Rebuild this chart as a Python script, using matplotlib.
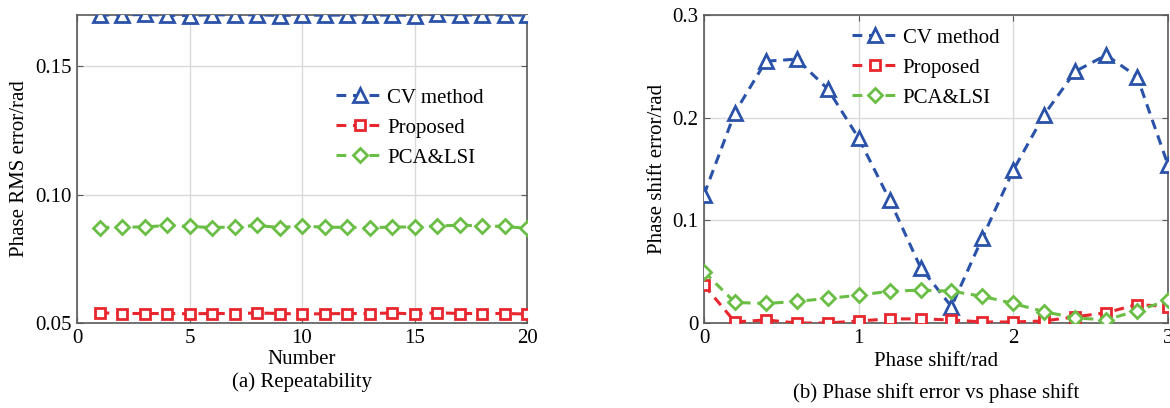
"""Two-panel chart: repeatability and phase shift error vs phase shift."""

import matplotlib

matplotlib.use("Agg")
import matplotlib.pyplot as plt

# (a) Repeatability
run_number = list(range(1, 21))
rms_cv = [0.1700, 0.1700, 0.1702, 0.1699, 0.1698, 0.1701, 0.1700, 0.1701, 0.1698, 0.1700,
          0.1699, 0.1700, 0.1699, 0.1700, 0.1698, 0.1703, 0.1700, 0.1700, 0.1700, 0.1699]
rms_proposed = [0.0540, 0.0537, 0.0537, 0.0537, 0.0536, 0.0537, 0.0537, 0.0539, 0.0537, 0.0535,
                0.0536, 0.0537, 0.0537, 0.0539, 0.0535, 0.0540, 0.0537, 0.0537, 0.0537, 0.0535]
rms_pca = [0.0872, 0.0874, 0.0874, 0.0880, 0.0876, 0.0872, 0.0874, 0.0880, 0.0872, 0.0878,
           0.0873, 0.0873, 0.0871, 0.0874, 0.0874, 0.0878, 0.0881, 0.0879, 0.0876, 0.0869]

# (b) Phase shift error vs phase shift
phase_shift = [0.0, 0.2, 0.4, 0.6, 0.8, 1.0, 1.2, 1.4, 1.6, 1.8, 2.0, 2.2, 2.4, 2.6, 2.8, 3.0]
err_cv = [0.125, 0.205, 0.255, 0.257, 0.228, 0.180, 0.120, 0.054, 0.016, 0.083,
          0.149, 0.203, 0.245, 0.261, 0.240, 0.154]
err_proposed = [0.037, 0.001, 0.003, 0.000, 0.000, 0.002, 0.004, 0.004, 0.003, 0.001,
                0.001, 0.002, 0.006, 0.010, 0.018, 0.016]
err_pca = [0.050, 0.020, 0.019, 0.021, 0.024, 0.027, 0.031, 0.032, 0.031, 0.026,
           0.019, 0.011, 0.005, 0.003, 0.012, 0.022]

labels = ["CV method", "Proposed", "PCA&LSI"]
colors = ["#2A52A8", "#E8262E", "#6BBE45"]
markers = ["^", "s", "D"]
marker_sizes = [10, 7, 7]

plt.rcParams.update({
    "font.family": ["Liberation Serif", "DejaVu Serif"],
    "font.size": 14,
})

fig = plt.figure(figsize=(11.7, 4.08), dpi=100)
ax_a = fig.add_axes([77 / 1170, 1 - 323 / 408, 450 / 1170, 308 / 408])
ax_b = fig.add_axes([704 / 1170, 1 - 323 / 408, 464 / 1170, 308 / 408])


def draw_series(ax, x, series):
    for y, label, color, marker, ms in zip(series, labels, colors, markers, marker_sizes):
        ax.plot(x, y, linestyle=(0, (3.2, 2.2)), linewidth=2.2, color=color, marker=marker,
                markersize=ms, markerfacecolor="white", markeredgecolor=color,
                markeredgewidth=2.0, label=label, clip_on=True, zorder=3)


def style_axes(ax):
    ax.grid(True, color="#D9D9D9", linewidth=1.0, zorder=0)
    ax.set_axisbelow(True)
    for spine in ax.spines.values():
        spine.set_color("#5A5A5A")
        spine.set_linewidth(1.2)
    ax.tick_params(direction="in", top=True, right=True, length=4, color="#5A5A5A",
                   labelsize=15, pad=4)


draw_series(ax_a, run_number, [rms_cv, rms_proposed, rms_pca])
ax_a.set_xlim(0, 20)
ax_a.set_ylim(0.05, 0.17)
ax_a.set_xticks([0, 5, 10, 15, 20])
ax_a.set_yticks([0.05, 0.10, 0.15])
ax_a.set_yticklabels(["0.05", "0.10", "0.15"])
style_axes(ax_a)
ax_a.set_ylabel("Phase RMS error/rad", fontsize=15, labelpad=4)
ax_a.legend(loc="upper left", bbox_to_anchor=(0.557, 0.79), frameon=False, numpoints=1,
            handlelength=2.3, handletextpad=0.15, labelspacing=0.5, fontsize=15,
            borderaxespad=0)

draw_series(ax_b, phase_shift, [err_cv, err_proposed, err_pca])
ax_b.set_xlim(0, 3)
ax_b.set_ylim(0, 0.3)
ax_b.set_xticks([0, 1, 2, 3])
ax_b.set_yticks([0, 0.1, 0.2, 0.3])
ax_b.set_yticklabels(["0", "0.1", "0.2", "0.3"])
style_axes(ax_b)
ax_b.set_ylabel("Phase shift error/rad", fontsize=15, labelpad=4)
ax_b.legend(loc="upper left", bbox_to_anchor=(0.3, 0.985), frameon=False, numpoints=1,
            handlelength=2.3, handletextpad=0.15, labelspacing=0.5, fontsize=15,
            borderaxespad=0)

fig.text(302 / 1170, 1 - 360 / 408, "Number", ha="center", va="center", fontsize=15)
fig.text(302 / 1170, 1 - 382 / 408, "(a) Repeatability", ha="center", va="center", fontsize=15)
fig.text(936 / 1170, 1 - 362 / 408, "Phase shift/rad", ha="center", va="center", fontsize=15)
fig.text(936 / 1170, 1 - 393 / 408, "(b) Phase shift error vs phase shift", ha="center",
         va="center", fontsize=15)

fig.savefig("out.png", dpi=100)
